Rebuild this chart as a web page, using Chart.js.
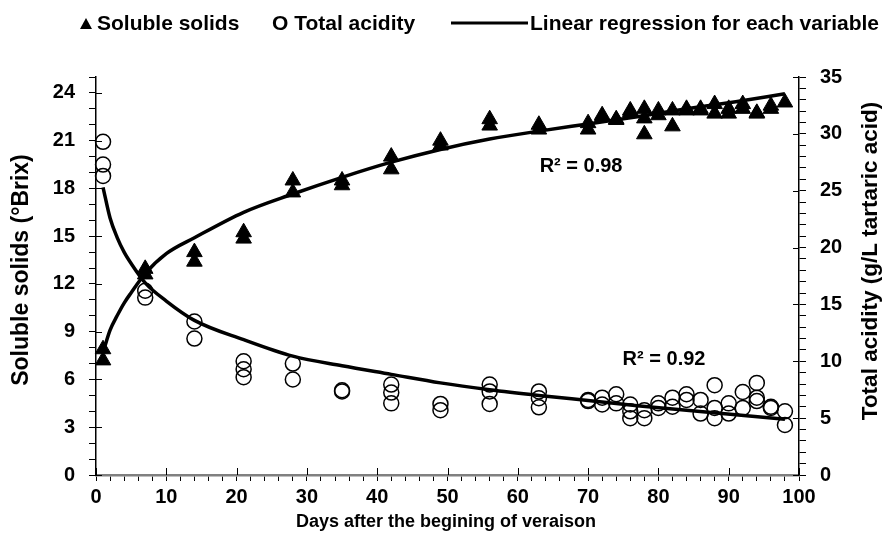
<!DOCTYPE html>
<html>
<head>
<meta charset="utf-8">
<script src="https://cdn.jsdelivr.net/npm/chart.js@4.4.1/dist/chart.umd.min.js"></script>
<style>
  html, body { margin: 0; padding: 0; background: #fff; }
  #wrap { width: 889px; height: 543px; }
</style>
</head>
<body>
<div id="wrap"><canvas id="c"></canvas></div>
<script>
/* Soluble solids / total acidity after veraison — two y axes, scatter + fitted curves. */
(function () {
    'use strict';

    // sampling days and the replicate readings per day
    var days = [1, 7, 14, 21, 28, 35, 42, 49, 56, 63, 70, 72, 74, 76, 78, 80, 82, 84, 86, 88, 90, 92, 94, 96, 98];
    var solids = [
        [7.9, 7.2], [12.95, 12.6], [14.0, 13.4], [15.25, 14.85], [18.5, 17.75],
        [18.5, 18.2], [20.0, 19.2], [21.0, 20.7], [22.35, 21.95], [22.0, 21.7],
        [22.1, 21.7], [22.6, 22.5], [22.35, 22.3], [22.9, 22.8], [23.0, 22.4, 21.4],
        [22.9, 22.6], [22.9, 21.9], [23.0, 22.9], [23.0, 22.9], [23.3, 22.7],
        [23.0, 22.7], [23.3, 23.0], [22.75, 22.7], [23.2, 23.0], [23.4]
    ];
    var acidity = [
        [29.3, 27.3, 26.3], [16.2, 15.6], [13.5, 12.0], [10.0, 9.3, 8.6], [9.8, 8.4],
        [7.45, 7.35], [7.95, 7.25, 6.3], [6.25, 5.7], [7.95, 7.35, 6.25], [7.35, 6.75, 5.95],
        [6.6, 6.5], [6.8, 6.2], [7.1, 6.3], [6.2, 5.6, 5.0], [5.7, 5.0],
        [6.3, 5.9], [6.8, 6.0], [7.1, 6.6], [6.6, 5.4], [7.9, 5.9, 5.0],
        [6.3, 5.4], [7.3, 5.9], [8.1, 6.8, 6.5], [6.0, 5.9], [5.6, 4.4]
    ];

    // regression curves
    var fitDays = [1, 2, 3, 4, 5, 7, 10, 14, 21, 28, 35, 42, 49, 56, 63, 70, 77, 84, 91, 98];
    var solidsFit = [7.7, 9.1, 10.0, 10.8, 11.45, 12.65, 13.9, 14.9, 16.5, 17.65, 18.7, 19.65, 20.45, 21.1, 21.6, 22.05, 22.5, 23.0, 23.45, 23.95];
    var acidFit = [25.3, 22.6, 20.9, 19.6, 18.6, 16.9, 15.3, 13.6, 11.9, 10.45, 9.6, 8.85, 8.1, 7.5, 7.0, 6.55, 6.1, 5.7, 5.3, 4.9];

    var r2Solids = 'R\u00b2 = 0.98';
    var r2Acid = 'R\u00b2 = 0.92';

    var FONT = '"Liberation Sans", Arial, sans-serif';

    function points(xs, groups) {
        var out = [];
        xs.forEach(function (x, i) {
            groups[i].forEach(function (v) { out.push({ x: x, y: v }); });
        });
        return out;
    }
    function curve(xs, ys) {
        return xs.map(function (x, i) { return { x: x, y: ys[i] }; });
    }

    // major ticks cross the axis line: draw the inner half
    var innerTicks = {
        id: 'innerTicks',
        afterDraw: function (chart) {
            var ctx = chart.ctx, a = chart.chartArea, s = chart.scales;
            ctx.save();
            ctx.strokeStyle = '#000';
            ctx.lineWidth = 1;
            ctx.beginPath();
            s.y.ticks.forEach(function (t) {
                if (t.value % 3 !== 0) return;
                var py = Math.round(s.y.getPixelForValue(t.value)) + 0.5;
                ctx.moveTo(a.left, py); ctx.lineTo(a.left + 6, py);
            });
            s.y2.ticks.forEach(function (t) {
                if (t.value % 5 !== 0) return;
                var py = Math.round(s.y2.getPixelForValue(t.value)) + 0.5;
                ctx.moveTo(a.right, py); ctx.lineTo(a.right - 6, py);
            });
            s.x.ticks.forEach(function (t) {
                if (t.value % 10 !== 0) return;
                var px = Math.round(s.x.getPixelForValue(t.value)) + 0.5;
                ctx.moveTo(px, a.bottom); ctx.lineTo(px, a.bottom - 7);
            });
            ctx.stroke();
            ctx.restore();
        }
    };

    // legend line, axis titles and R² notes
    var labels = {
        id: 'labels',
        afterDraw: function (chart) {
            var ctx = chart.ctx, s = chart.scales;
            ctx.save();
            ctx.fillStyle = '#000';
            ctx.strokeStyle = '#000';

            // legend
            ctx.font = 'bold 21px ' + FONT;
            ctx.textBaseline = 'alphabetic';
            ctx.textAlign = 'left';
            ctx.beginPath();
            ctx.moveTo(80, 29); ctx.lineTo(92, 29); ctx.lineTo(86, 18); ctx.closePath();
            ctx.fill();
            ctx.fillText('Soluble solids', 97, 30);
            ctx.fillText('O Total acidity', 272, 30);
            ctx.lineWidth = 3;
            ctx.beginPath(); ctx.moveTo(451, 23); ctx.lineTo(528, 23); ctx.stroke();
            ctx.fillText('Linear regression for each variable', 530, 30);

            // y titles, both reading bottom to top
            ctx.textAlign = 'center';
            ctx.textBaseline = 'middle';
            ctx.font = 'bold 23px ' + FONT;
            ctx.save();
            ctx.translate(22, 270); ctx.rotate(-Math.PI / 2);
            ctx.fillText('Soluble solids (\u00b0Brix)', 0, 0);
            ctx.restore();
            ctx.font = 'bold 22.5px ' + FONT;
            ctx.save();
            ctx.translate(871, 261); ctx.rotate(-Math.PI / 2);
            ctx.fillText('Total acidity (g/L tartaric acid)', 0, 0);
            ctx.restore();

            // x title
            ctx.font = 'bold 18px ' + FONT;
            ctx.fillText('Days after the begining of veraison', 446, 522);

            // R² notes
            ctx.font = 'bold 20px ' + FONT;
            ctx.fillText(r2Solids, s.x.getPixelForValue(69), s.y.getPixelForValue(19.4));
            ctx.fillText(r2Acid, s.x.getPixelForValue(80.8), s.y2.getPixelForValue(10.2));
            ctx.restore();
        }
    };

    var tickFont = { family: FONT, size: 20, weight: 'bold' };

    new Chart(document.getElementById('c'), {
        type: 'scatter',
        data: {
            datasets: [{
                label: 'Soluble solids',
                data: points(days, solids),
                yAxisID: 'y',
                pointStyle: 'triangle',
                pointRadius: 9,
                backgroundColor: '#000',
                borderColor: '#000',
                borderWidth: 1
            }, {
                label: 'Total acidity',
                data: points(days, acidity),
                yAxisID: 'y2',
                pointStyle: 'circle',
                pointRadius: 7.5,
                backgroundColor: 'rgba(0,0,0,0)',
                borderColor: '#000',
                borderWidth: 1.5
            }, {
                label: 'fit solids',
                data: curve(fitDays, solidsFit),
                yAxisID: 'y',
                showLine: true,
                pointRadius: 0,
                borderColor: '#000',
                borderWidth: 3.5,
                cubicInterpolationMode: 'monotone'
            }, {
                label: 'fit acidity',
                data: curve(fitDays, acidFit),
                yAxisID: 'y2',
                showLine: true,
                pointRadius: 0,
                borderColor: '#000',
                borderWidth: 3.5,
                cubicInterpolationMode: 'monotone'
            }]
        },
        options: {
            responsive: true,
            maintainAspectRatio: false,
            animation: false,
            clip: false,
            layout: { padding: { top: 77, left: 0, right: 0, bottom: 0 } },
            plugins: { legend: { display: false }, tooltip: { enabled: false } },
            scales: {
                x: {
                    type: 'linear', min: 0, max: 100,
                    ticks: {
                        stepSize: 2, autoSkip: false, maxRotation: 0, padding: 4, color: '#000', font: tickFont,
                        callback: function (v) { return v % 10 === 0 ? v : ''; }
                    },
                    grid: { drawOnChartArea: false, drawTicks: true, tickLength: 6, color: '#000', lineWidth: 1 },
                    border: { display: true, color: '#808080', width: 2.5 },
                    afterFit: function (sc) { sc.height = 68; }
                },
                y: {
                    position: 'left', min: 0, max: 25,
                    ticks: {
                        stepSize: 1, autoSkip: false, padding: 14, color: '#000', font: tickFont,
                        callback: function (v) { return v % 3 === 0 ? v : ''; }
                    },
                    grid: { drawOnChartArea: false, drawTicks: true, tickLength: 7, color: '#000', lineWidth: 1 },
                    border: { display: true, color: '#000', width: 1.5 },
                    afterFit: function (sc) { sc.width = 96; }
                },
                y2: {
                    position: 'right', min: 0, max: 35,
                    ticks: {
                        stepSize: 1, autoSkip: false, padding: 14, color: '#000', font: tickFont,
                        callback: function (v) { return v % 5 === 0 ? v : ''; }
                    },
                    grid: { drawOnChartArea: false, drawTicks: true, tickLength: 7, color: '#000', lineWidth: 1 },
                    border: { display: true, color: '#000', width: 1.5 },
                    afterFit: function (sc) { sc.width = 90; }
                }
            }
        },
        plugins: [innerTicks, labels]
    });
})();
</script>
</body>
</html>
